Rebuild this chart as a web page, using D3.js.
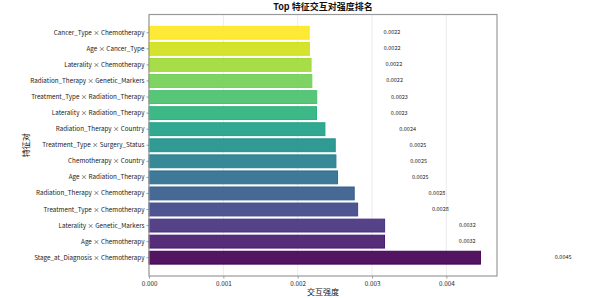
<!DOCTYPE html>
<html>
<head>
<meta charset="utf-8">
<script src="https://cdn.jsdelivr.net/npm/d3@7"></script>
<style>
  html, body { margin: 0; padding: 0; background: #fff; }
  svg { display: block; }
</style>
</head>
<body>
<div id="chart"></div>
<script>
// Top feature interaction pairs, ranked (top of chart = weakest)
const pairs = [
  "Cancer_Type × Chemotherapy",
  "Age × Cancer_Type",
  "Laterality × Chemotherapy",
  "Radiation_Therapy × Genetic_Markers",
  "Treatment_Type × Radiation_Therapy",
  "Laterality × Radiation_Therapy",
  "Radiation_Therapy × Country",
  "Treatment_Type × Surgery_Status",
  "Chemotherapy × Country",
  "Age × Radiation_Therapy",
  "Radiation_Therapy × Chemotherapy",
  "Treatment_Type × Chemotherapy",
  "Laterality × Genetic_Markers",
  "Age × Chemotherapy",
  "Stage_at_Diagnosis × Chemotherapy"
];
const strengths = [
  0.002155, 0.002157, 0.00218, 0.00219, 0.002256, 0.002253, 0.002366,
  0.002505, 0.002514, 0.002536, 0.00276, 0.002806, 0.003169, 0.003168, 0.004458
];
const xTicks = [0, 0.001, 0.002, 0.003, 0.004];

const W = 600, H = 298;
const m = { top: 14.5, right: 103, bottom: 22, left: 149 };
const iw = W - m.left - m.right;
const ih = H - m.top - m.bottom;

const FONT = "'Noto Sans CJK SC', 'DejaVu Sans', sans-serif";
const n = pairs.length;

const xScale = d3.scaleLinear()
  .domain([0, d3.max(strengths) * 1.05])
  .range([0, iw]);

const yScale = d3.scaleBand()
  .domain(pairs)
  .range([0, ih])
  .paddingInner(0.2)
  .paddingOuter(0.74);

const svg = d3.select("#chart").append("svg")
  .attr("width", W)
  .attr("height", H);

const g = svg.append("g")
  .attr("transform", `translate(${m.left},${m.top})`);

// vertical grid
xTicks.forEach(t => {
  g.append("line")
    .attr("x1", xScale(t)).attr("x2", xScale(t))
    .attr("y1", 0).attr("y2", ih)
    .attr("stroke", "#e6e6e6")
    .attr("stroke-width", 0.8);
});

// bars, viridis from bottom (0) to top (1)
pairs.forEach((p, i) => {
  const c = d3.interpolateViridis((n - 1 - i) / (n - 1));
  const y = yScale(p);
  const bh = yScale.bandwidth();
  const w = xScale(strengths[i]);

  g.append("rect")
    .attr("x", 0)
    .attr("y", y)
    .attr("width", w)
    .attr("height", bh)
    .attr("fill", c)
    .attr("fill-opacity", 0.92)
    .attr("stroke", c)
    .attr("stroke-width", 1);

  // value label, offset by 0.001 to the right
  g.append("text")
    .attr("x", xScale(strengths[i] + 0.001))
    .attr("y", y + bh / 2)
    .attr("dominant-baseline", "middle")
    .attr("font-size", "5.5px")
    .attr("font-family", FONT)
    .attr("fill", "#222")
    .text(strengths[i].toFixed(4));
});

// y axis
const yAxisG = g.append("g")
  .call(d3.axisLeft(yScale).tickSize(2.5).tickPadding(2));
yAxisG.select(".domain").remove();
yAxisG.selectAll(".tick line").attr("stroke", "#555").attr("stroke-width", 0.6);
yAxisG.selectAll("text")
  .attr("font-size", "6.3px")
  .attr("font-family", FONT)
  .attr("fill", "#222");

// x axis
const xAxisG = g.append("g")
  .attr("transform", `translate(0,${ih})`)
  .call(d3.axisBottom(xScale).tickValues(xTicks).tickFormat(d3.format(".3f"))
    .tickSize(2.5).tickPadding(3));
xAxisG.select(".domain").remove();
xAxisG.selectAll(".tick line").attr("stroke", "#555").attr("stroke-width", 0.6);
xAxisG.selectAll("text")
  .attr("font-size", "6.3px")
  .attr("font-family", FONT)
  .attr("fill", "#222");

// frame
g.append("rect")
  .attr("x", 0).attr("y", 0)
  .attr("width", iw).attr("height", ih)
  .attr("fill", "none")
  .attr("stroke", "#999")
  .attr("stroke-width", 1.2);

// title
svg.append("text")
  .attr("x", m.left + iw / 2)
  .attr("y", m.top - 5)
  .attr("text-anchor", "middle")
  .attr("font-size", "9px")
  .attr("font-weight", "bold")
  .attr("font-family", FONT)
  .attr("fill", "#111")
  .text("Top 特征交互对强度排名");

// x label
svg.append("text")
  .attr("x", m.left + iw / 2)
  .attr("y", H - 3)
  .attr("text-anchor", "middle")
  .attr("font-size", "8px")
  .attr("font-family", FONT)
  .attr("fill", "#111")
  .text("交互强度");

// y label
svg.append("text")
  .attr("transform", `translate(29,${m.top + ih / 2}) rotate(-90)`)
  .attr("text-anchor", "middle")
  .attr("font-size", "8px")
  .attr("font-family", FONT)
  .attr("fill", "#111")
  .text("特征对");
</script>
</body>
</html>
